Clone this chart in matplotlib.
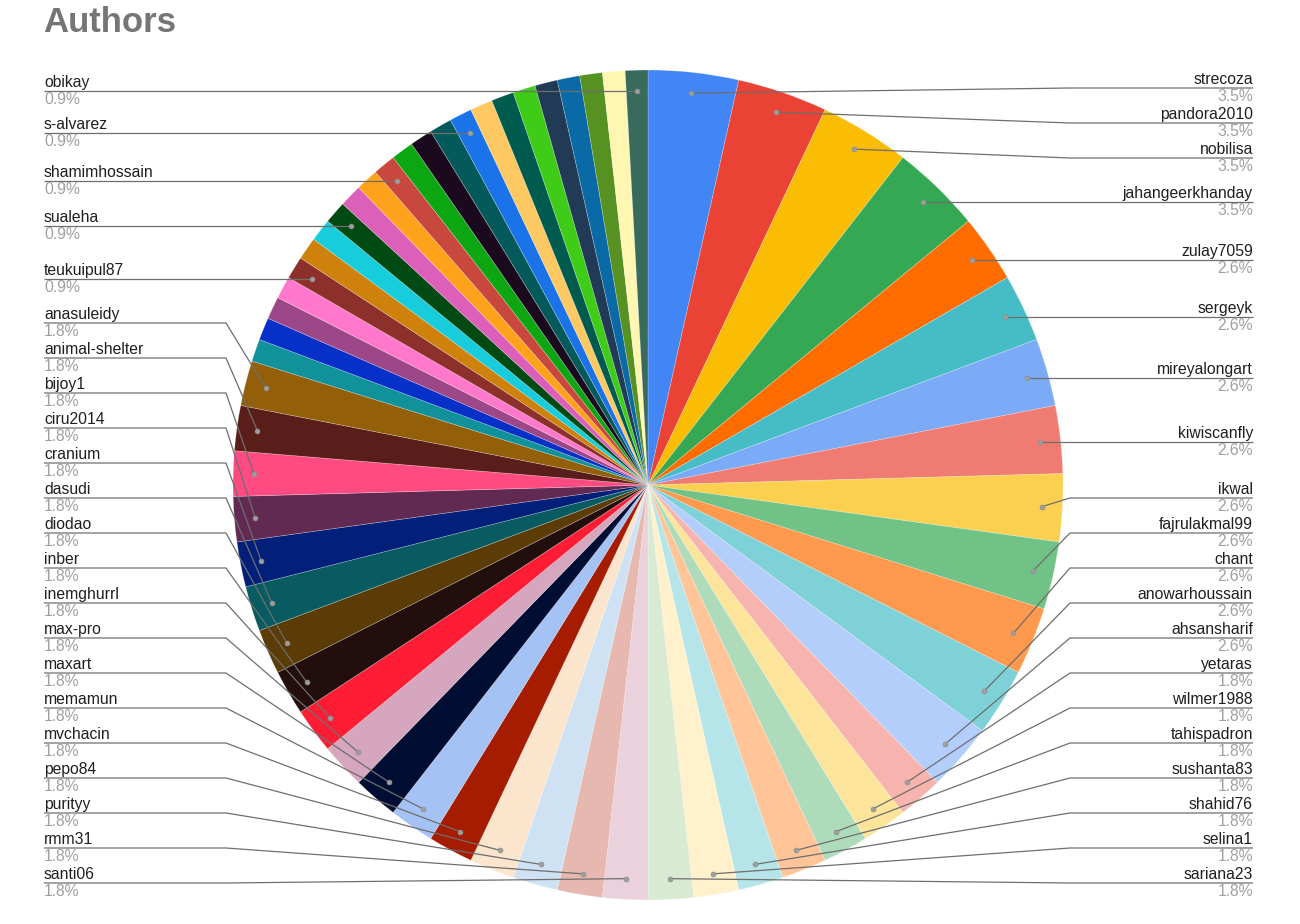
import numpy as np
import matplotlib.pyplot as plt

plt.rcParams["font.family"] = ["Liberation Sans", "DejaVu Sans"]

# slices clockwise from 12 o'clock; unlabeled small slices have no visible name
authors = [
    "strecoza", "pandora2010", "nobilisa", "jahangeerkhanday",
    "zulay7059", "sergeyk", "mireyalongart", "kiwiscanfly", "ikwal",
    "fajrulakmal99", "chant", "anowarhoussain", "ahsansharif",
    "yetaras", "wilmer1988", "tahispadron", "sushanta83", "shahid76",
    "selina1", "sariana23", "santi06", "rmm31", "purityy", "pepo84",
    "mvchacin", "memamun", "maxart", "max-pro", "inemghurrl", "inber",
    "diodao", "dasudi", "cranium", "ciru2014", "bijoy1", "animal-shelter",
    "anasuleidy",
    "", "", "", "", "teukuipul87", "", "", "sualeha", "", "",
    "shamimhossain", "", "", "", "s-alvarez", "", "", "", "", "", "", "",
    "obikay",
]
counts = [
    4, 4, 4, 4,
    3, 3, 3, 3, 3, 3, 3, 3, 3,
    2, 2, 2, 2, 2, 2, 2, 2, 2, 2, 2, 2,
    2, 2, 2, 2, 2, 2, 2, 2, 2, 2, 2, 2,
    1, 1, 1, 1, 1, 1, 1, 1, 1, 1, 1, 1,
    1, 1, 1, 1, 1, 1, 1, 1, 1, 1, 1,
]
colors = [
    "#4285f4", "#ea4335", "#fbbc04", "#34a853",
    "#ff6d01", "#46bdc6", "#7baaf7", "#f07b72", "#fcd04f",
    "#71c287", "#ff994d", "#7ed1d7", "#b3cefb",
    "#f7b4ae", "#fde49b", "#aedcba", "#ffc599", "#b5e5e8", "#fef1cc",
    "#d9ead3", "#ead1dc", "#e6b8af", "#cfe2f3", "#fce5cd",
    "#a61c00", "#a4c2f4", "#000e33", "#d5a6bd", "#ff1d36", "#220e0c",
    "#5b3b06", "#085b60", "#02207a", "#622a52", "#ff4b82", "#5a1e1a",
    "#935f08",
    "#11929a", "#0630c8", "#9c4787", "#ff78cb", "#8d302b", "#ce820c",
    "#17cddc", "#024a14", "#dc5fba", "#fea11b", "#c9483e", "#0ba611",
    "#1b0a1d", "#045a5a", "#1a73e8", "#fec962", "#005b4f", "#3fcc18",
    "#213a55", "#0a6aa6", "#579121", "#fff6b1", "#386b5b",
]

W, H = 1300, 924
cx, cy, R = 648, H - 485, 415
total = sum(counts)

fig = plt.figure(figsize=(13, 9.24), dpi=100)
ax = fig.add_axes([0, 0, 1, 1])

wedges, _ = ax.pie(counts, colors=colors, startangle=90, counterclock=False,
                   center=(cx, cy), radius=R,
                   wedgeprops=dict(linewidth=0.5, edgecolor=(1, 1, 1, 0.3)))
ax.set_xlim(0, W)
ax.set_ylim(0, H)
ax.set_aspect("equal")
ax.axis("off")


def spread(ys, gap=35, lo=H - 883, hi=H - 88):
    # push label positions apart, keeping groups centred on their slices
    groups = []
    for i in np.argsort(ys):
        start = min(max(ys[i], lo), hi)
        groups.append([[i], start])
        while len(groups) > 1:
            a, b = groups[-2], groups[-1]
            if a[1] + len(a[0]) * gap <= b[1]:
                break
            idx = a[0] + b[0]
            n = len(idx)
            s = np.mean([ys[k] for k in idx]) - (n - 1) * gap / 2
            s = min(max(s, lo), hi - (n - 1) * gap)
            groups[-2:] = [[idx, s]]
    out = [0.0] * len(ys)
    for idx, s in groups:
        for k, i in enumerate(idx):
            out[i] = s + k * gap
    return out


sides = {"right": [], "left": []}
for w, name, c in zip(wedges, authors, counts):
    if not name:
        continue
    mid = np.deg2rad((w.theta1 + w.theta2) / 2)
    px = cx + 0.95 * R * np.cos(mid)
    py = cy + 0.95 * R * np.sin(mid)
    pct = f"{100 * c / total:.1f}%"
    sides["right" if px > cx else "left"].append((name, pct, px, py))

for side, items in sides.items():
    if side == "right":
        edge_x, elbow_x, ha = 1253, cx + R + 7, "right"
    else:
        edge_x, elbow_x, ha = 44, cx - R - 7, "left"
    ly = spread([it[3] for it in items])
    for (name, pct, px, py), y in zip(items, ly):
        ax.plot([px, elbow_x, edge_x], [py, y, y], color="#6e6e6e", lw=0.9,
                solid_capstyle="butt")
        ax.plot(px, py, "o", ms=3.6, color="#9e9e9e", mec="#8a8a8a", mew=0.4)
        ax.text(edge_x, y + 4, name, ha=ha, va="baseline", fontsize=11.3,
                color="#1f1f1f")
        ax.text(edge_x, y - 13, pct, ha=ha, va="baseline", fontsize=11.3,
                color="#a0a0a0")

fig.text(43 / W, 1 - 32 / H, "Authors", fontsize=25, fontweight="bold",
         color="#757575", va="baseline")

fig.savefig("out.png", dpi=100)
